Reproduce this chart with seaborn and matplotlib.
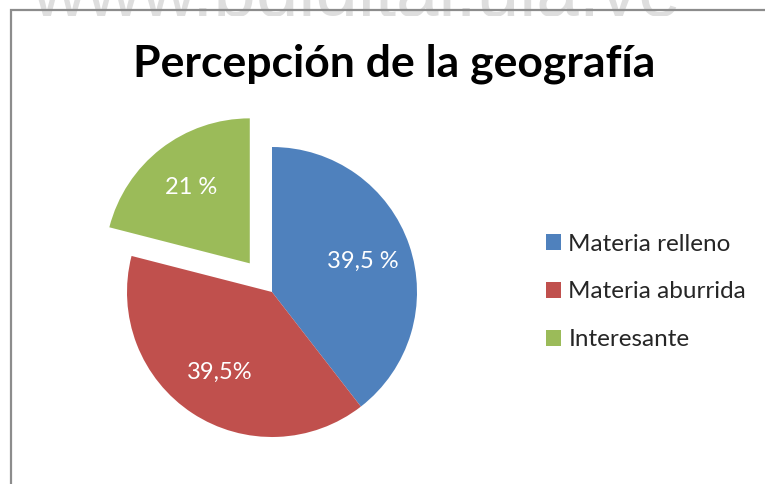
import matplotlib
matplotlib.use("Agg")
import matplotlib.pyplot as plt
from matplotlib.patches import Rectangle
import seaborn as sns

# ---- data ----
categories = ["Materia relleno", "Materia aburrida", "Interesante"]
values = [39.5, 39.5, 21]
pct_labels = ["39,5 %", "39,5%", "21 %"]
colors = ["#4F81BD", "#C0504D", "#9BBB59"]
explode = [0, 0, 0.25]
title = "Percepción de la geografía"
watermark = "www.bdigital.ula.ve"

sns.set_theme(style="white")
plt.rcParams["font.family"] = ["Lato", "DejaVu Sans"]

W, H = 765, 484
fig = plt.figure(figsize=(W / 100, H / 100), dpi=100)
fig.patch.set_facecolor("white")

# watermark (clipped below its baseline, as in the reference)
wm = fig.text(356 / W, 1 - 16 / H, watermark, ha="center", va="baseline",
              fontsize=55, color="#dedede", family=["Liberation Sans"], zorder=0)
clip = Rectangle((0, 1 - 16 / H), 1, 16 / H + 0.1, transform=fig.transFigure)
wm.set_clip_path(clip)

# chart border
border = Rectangle((11 / W, -0.05), 1.1, 1 - 10 / H + 0.05, transform=fig.transFigure,
                   fill=False, edgecolor="#8c8c8c", linewidth=1.6, zorder=1)
fig.patches.append(border)

# pie axes: center at (272, 292) px, radius 145 px
cx, cy, r = 272, 292, 145
half = 200
ax = fig.add_axes([(cx - half) / W, (H - cy - half) / H, 2 * half / W, 2 * half / H])
ax.set_facecolor("none")
it = iter(pct_labels)
wedges, texts, autotexts = ax.pie(
    values, colors=colors, explode=explode, startangle=90, counterclock=False,
    autopct=lambda p: next(it), pctdistance=0.66,
    wedgeprops=dict(linewidth=0),
    textprops=dict(color="white", fontsize=17),
)
ax.set_xlim(-half / r, half / r)
ax.set_ylim(-half / r, half / r)
ax.axis("off")

# title
fig.text(394 / W, 1 - 76 / H, title, ha="center", va="baseline",
         fontsize=32, fontweight="bold", color="black")

# legend
leg = fig.legend(wedges, categories, loc="center left",
                 bbox_to_anchor=(546 / W, (H - 292) / H),
                 frameon=False, fontsize=17.5, handlelength=0.62, handleheight=0.62,
                 handletextpad=0.3, labelspacing=1.1, borderpad=0, borderaxespad=0)

fig.savefig("out.png", dpi=100, facecolor="white")
